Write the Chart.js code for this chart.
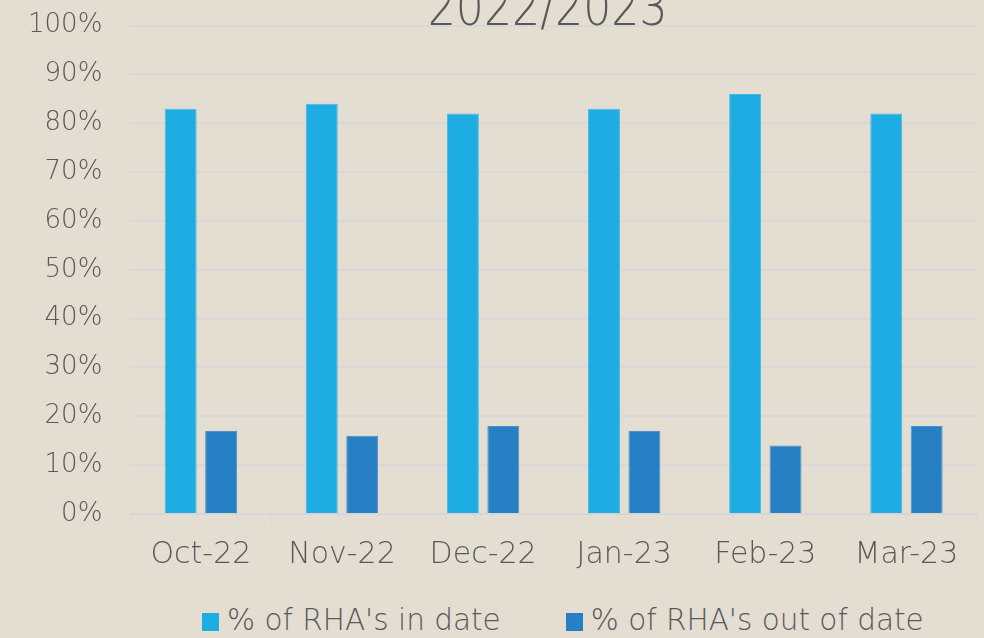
<!DOCTYPE html>
<html>
<head>
<meta charset="utf-8">
<script src="https://cdn.jsdelivr.net/npm/chart.js@4.4.0/dist/chart.umd.min.js"></script>
<style>
  html, body { margin: 0; padding: 0; background: #e3ddd2; overflow: hidden; width: 984px; height: 638px; }
  #wrap { width: 984px; height: 604px; position: absolute; left: 0; top: -18px; }
  #leyenda { position: absolute; left: 202px; top: 603px; display: flex; align-items: center;
             font-family: 'DejaVu Sans', sans-serif; font-weight: 200; font-size: 29.5px; color: #595959; white-space: nowrap; }
  #leyenda .item { display: flex; align-items: center; margin-right: 65px; }
  #leyenda .caja { width: 17px; height: 18px; margin-right: 8px; margin-top: 3px; }
</style>
</head>
<body>
<div id="wrap"><canvas id="grafico"></canvas></div>
<div id="leyenda"></div>
<script>
const titulo = '2022/2023';
const meses = ['Oct-22', 'Nov-22', 'Dec-22', 'Jan-23', 'Feb-23', 'Mar-23'];
const enFecha = [83, 84, 82, 83, 86, 82];
const fueraFecha = [17, 16, 18, 17, 14, 18];
const etiquetas = ["% of RHA's in date", "% of RHA's out of date"];
const colores = ['#1eade3', '#2880c4'];

const fuente = "'DejaVu Sans', sans-serif";
const gris = '#595959';

// title sits over the top of the plot, partly off the page
const tituloPlugin = {
    id: 'tituloPlugin',
    afterDraw(chart) {
        const ctx = chart.ctx;
        const area = chart.chartArea;
        ctx.save();
        ctx.font = '200 52px ' + fuente;
        ctx.fillStyle = gris;
        ctx.textAlign = 'center';
        ctx.textBaseline = 'alphabetic';
        ctx.translate((area.left + area.right) / 2 - 6, 43);
        ctx.scale(0.85, 1);
        ctx.fillText(titulo, 0, 0);
        ctx.restore();
    }
};

const ctx = document.getElementById('grafico').getContext('2d');
const miGrafico = new Chart(ctx, {
    type: 'bar',
    data: {
        labels: meses,
        datasets: [
            {
                label: etiquetas[0],
                data: enFecha,
                backgroundColor: colores[0],
                borderColor: '#48b9e2',
                borderWidth: 1
            },
            {
                label: etiquetas[1],
                data: fueraFecha,
                backgroundColor: colores[1],
                borderColor: '#4b93c8',
                borderWidth: 1
            }
        ]
    },
    options: {
        responsive: true,
        maintainAspectRatio: false,
        animation: false,
        categoryPercentage: 0.573,
        barPercentage: 0.79,
        layout: {
            padding: { top: 11, right: 7, left: 0, bottom: 0 }
        },
        plugins: {
            legend: { display: false },
            tooltip: { enabled: false }
        },
        scales: {
            x: {
                grid: {
                    display: true,
                    drawOnChartArea: false,
                    tickLength: 10,
                    color: '#d6d6d6',
                    offset: true
                },
                border: { display: true, color: '#d6d6d6', width: 2 },
                ticks: {
                    color: gris,
                    font: { family: fuente, size: 30, weight: 200 },
                    padding: 13
                }
            },
            y: {
                min: 0,
                max: 100,
                grid: {
                    color: '#d8d8d8',
                    lineWidth: 2,
                    drawTicks: false
                },
                border: { display: false },
                ticks: {
                    stepSize: 10,
                    color: gris,
                    font: { family: fuente, size: 26, weight: 200 },
                    padding: 28,
                    callback: v => v + '%'
                }
            }
        }
    },
    plugins: [tituloPlugin]
});

// legend as html, built from the datasets
const leyenda = document.getElementById('leyenda');
miGrafico.data.datasets.forEach(ds => {
    const item = document.createElement('div');
    item.className = 'item';
    const caja = document.createElement('span');
    caja.className = 'caja';
    caja.style.background = ds.backgroundColor;
    const texto = document.createElement('span');
    texto.textContent = ds.label;
    item.appendChild(caja);
    item.appendChild(texto);
    leyenda.appendChild(item);
});
</script>
</body>
</html>
